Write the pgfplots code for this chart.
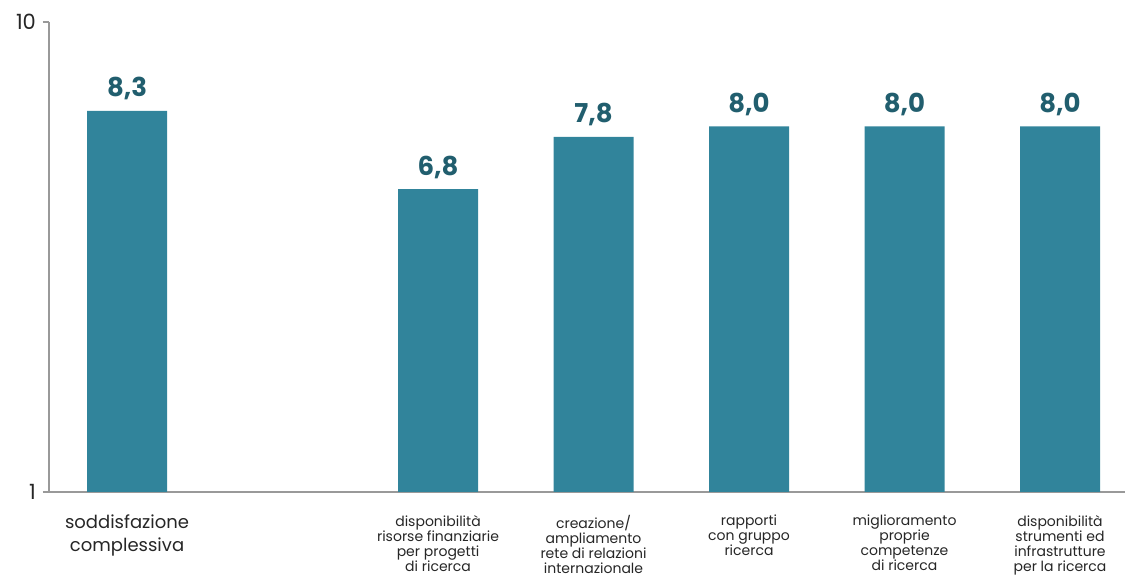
\documentclass[border=0pt]{standalone}
\usepackage{fontspec}
\setmainfont{Poppins}
\usepackage{pgfplots}
\pgfplotsset{compat=1.18}
\definecolor{barc}{HTML}{31849B}
\definecolor{labc}{HTML}{215E6E}
\definecolor{axl}{HTML}{999999}
\definecolor{txt}{HTML}{262626}
\newcommand{\catfontbig}{\fontsize{9}{11.5}\selectfont}
\begin{document}
\begin{tikzpicture}
\begin{axis}[
  scale only axis, width=538pt, height=235pt,
  xmin=-0.502, xmax=6.418, ymin=1, ymax=10,
  axis x line=bottom, axis y line=left,
  axis line style={draw=axl, line width=0.8pt, -},
  ytick={1,10}, yticklabels={1,10},
  yticklabel style={font=\fontsize{10.5}{10.5}\selectfont, text=txt},
  major tick length=3pt, tick align=outside,
  ytick style={draw=axl, line width=0.8pt},
  xtick={0,2,3,4,5,6},
  x tick style={draw=none},
  xticklabels={
    {\catfontbig soddisfazione}\\[4pt]{\catfontbig complessiva},
    disponibilità\\risorse finanziarie\\per progetti\\di ricerca,
    creazione/\\ampliamento\\rete di relazioni\\internazionale,
    rapporti\\con gruppo\\ricerca,
    miglioramento\\proprie\\competenze\\di ricerca,
    disponibilità\\strumenti ed\\infrastrutture\\per la ricerca},
  xticklabel style={anchor=north, align=center, yshift=-5pt,
    font=\fontsize{7}{7.5}\selectfont, text=txt},
  clip=false,
]
\addplot[ybar, bar width=40pt, fill=barc, draw=none,
  nodes near coords,
  every node near coord/.append style={anchor=base, inner sep=0pt, yshift=7pt,
    font=\fontsize{13}{13}\selectfont\bfseries, text=labc},
  nodes near coords style={/pgf/number format/.cd, use comma, fixed, fixed zerofill, precision=1, assume math mode=true},
] coordinates {(0,8.3) (2,6.8) (3,7.8) (4,8.0) (5,8.0) (6,8.0)};
\coordinate (sw) at (rel axis cs:0,0);
\end{axis}
\pgfresetboundingbox
\path[use as bounding box] (sw) ++(-24.5pt,-45.5pt) rectangle ++(562.5pt,291.5pt);
\end{tikzpicture}
\end{document}
